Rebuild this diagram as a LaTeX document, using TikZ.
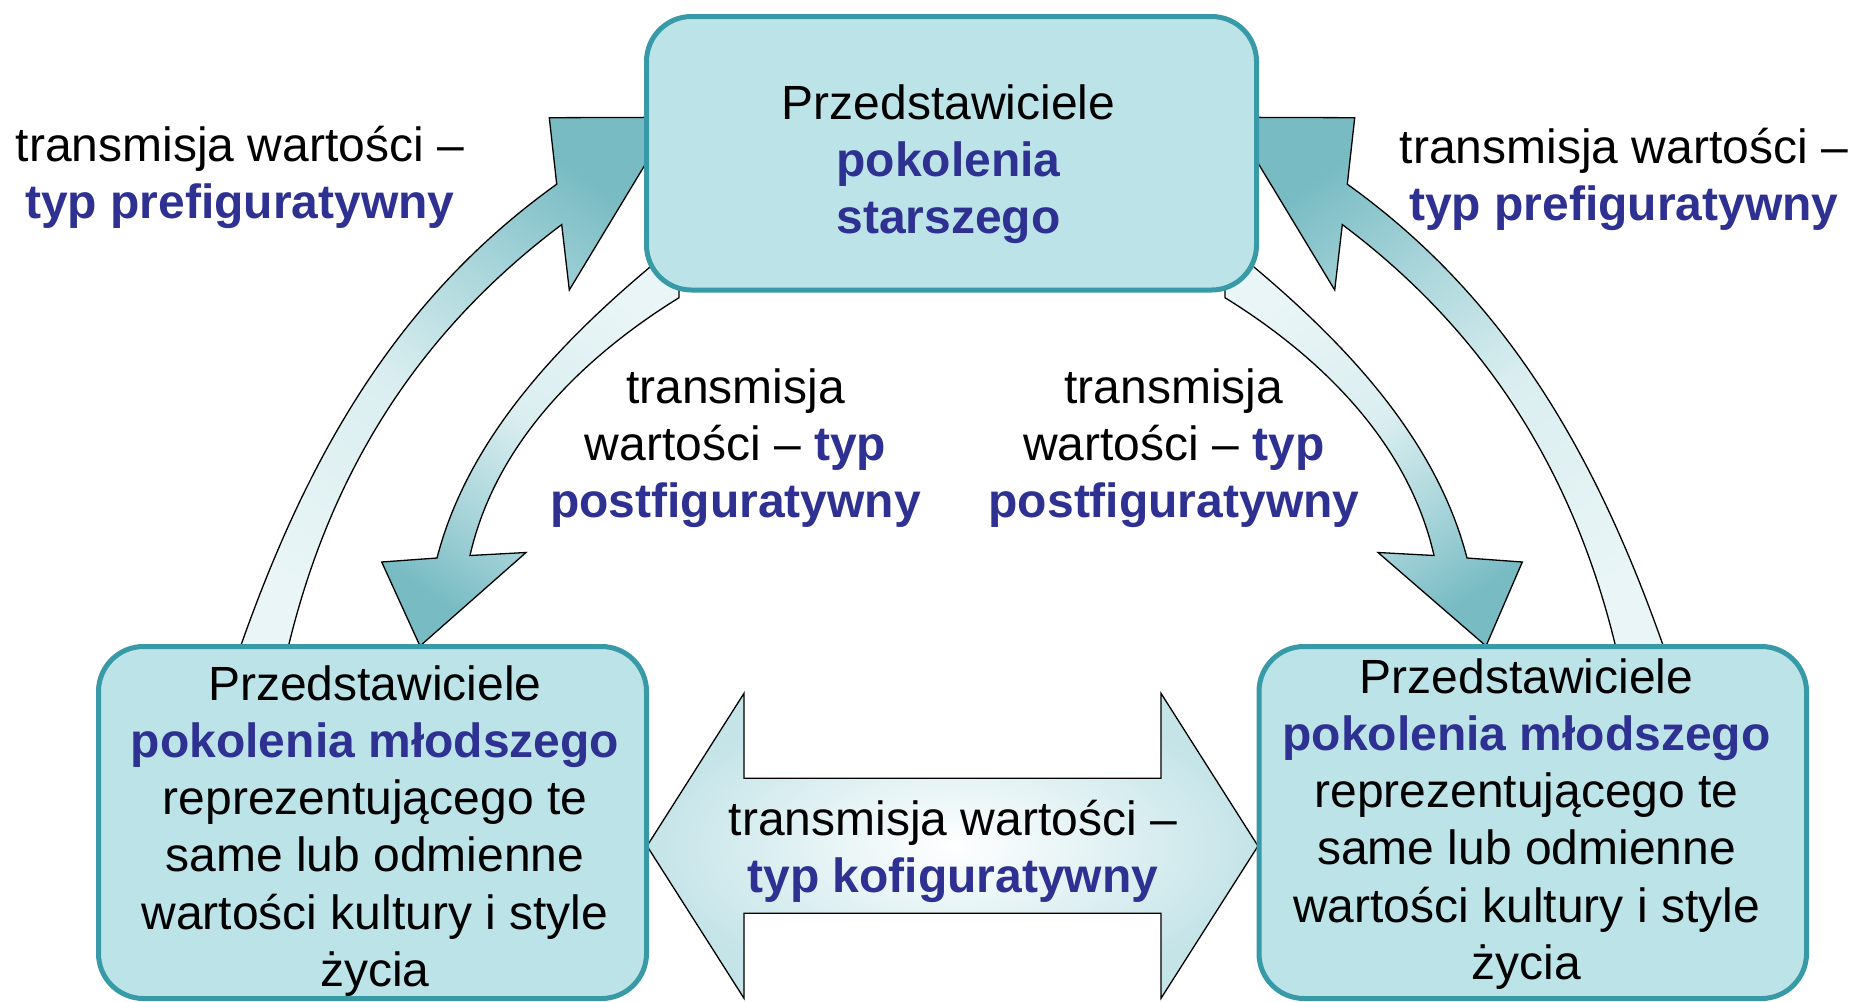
\documentclass[tikz,border=0pt]{standalone}
\usepackage{fontspec}
\setmainfont{Liberation Sans}
\definecolor{tblue}{RGB}{46,49,146}
\definecolor{boxfill}{RGB}{188,228,232}
\definecolor{boxline}{RGB}{56,154,166}
\definecolor{arrlight}{RGB}{233,245,246}
\definecolor{arrmid}{RGB}{218,238,240}
\definecolor{arrmed}{RGB}{168,213,218}
\definecolor{arrdark}{RGB}{120,187,195}
\definecolor{midedge}{RGB}{196,228,232}
\pgfdeclareverticalshading{curvshade}{100bp}{color(0bp)=(arrlight); color(25bp)=(arrlight); color(47bp)=(arrmid); color(62bp)=(arrmed); color(75bp)=(arrdark); color(100bp)=(arrdark)}
\newcommand{\kw}[1]{\textbf{\textcolor{tblue}{#1}}}
\newcommand{\topstrut}{\rule{0pt}{40pt}}
\begin{document}
\begin{tikzpicture}[x=1pt, y=-1pt,
  genbox/.style={draw=boxline, fill=boxfill, line width=5pt, rounded corners=45pt, inner sep=0pt},
  lbl/.style={anchor=north, align=center, inner sep=0pt, font=\fontsize{48}{57.2}\selectfont},
  curv/.style={shading=curvshade, draw=black, line width=1.3pt, line join=miter},
  straightarr/.style={inner color=white, outer color=midedge, draw=black, line width=1.3pt}]
\useasboundingbox (0,0) rectangle (1854,1001);
\fill[white] (0,0) rectangle (1854,1001);

% prefigurative, left (young -> old)
\shadedraw[curv, shading angle=-35] (236,662) -- (240,648) .. controls (306,460) and (395,300) .. (556.7,184.2)
  -- (549.3,117.7) -- (673.7,117.3) -- (569.3,290) -- (561.7,224.6)
  .. controls (417.7,332.6) and (330,473) .. (288,648) -- (285,662) -- cycle;
% postfigurative, left (old -> young)
\shadedraw[curv, shading angle=145.7] (656,262) .. controls (560,342) and (468,438) .. (437,558)
  -- (381.7,562) -- (420,646) -- (526,552.5) -- (470,555.5)
  .. controls (495,445) and (580,359) .. (679,297.7) -- (679,258) -- cycle;
% prefigurative, right (young -> old)
\shadedraw[curv, shading angle=35] (1668,662) -- (1664,648) .. controls (1598,460) and (1509,300) .. (1347.3,184.2)
  -- (1354.7,117.7) -- (1230.3,117.3) -- (1334.7,290) -- (1342.3,224.6)
  .. controls (1486.3,332.6) and (1574,473) .. (1616,648) -- (1619,662) -- cycle;
% postfigurative, right (old -> young)
\shadedraw[curv, shading angle=-145.7] (1248,262) .. controls (1344,342) and (1436,438) .. (1467,558)
  -- (1522.3,562) -- (1486,646) -- (1378,552.5) -- (1434,555.5)
  .. controls (1409,445) and (1324,359) .. (1225,297.7) -- (1225,258) -- cycle;
% cofigurative double arrow
\shadedraw[straightarr] (647,846) -- (744,693.3) -- (744,778.3) -- (1161,778.3) -- (1161,693.3)
  -- (1258,846) -- (1161,998.3) -- (1161,913.3) -- (744,913.3) -- (744,998.3) -- cycle;

% boxes
\node[genbox, minimum width=610pt, minimum height=273.5pt] (old) at (951.5,153.25) {};
\node[genbox, minimum width=548pt, minimum height=352pt] (youngL) at (372.5,822.5) {};
\node[genbox, minimum width=547.5pt, minimum height=352pt] (youngR) at (1532.75,822.5) {};

% box texts
\node[lbl] (oldtxt) at (948.5,79.3) {\topstrut Przedstawiciele\\ \kw{pokolenia}\\ \kw{starszego}};
\node[lbl] (youngLtxt) at (375,660) {\topstrut Przedstawiciele\\ \kw{pokolenia młodszego}\\ reprezentującego te\\ same lub odmienne\\ wartości kultury i style\\ życia};
\node[lbl] (youngRtxt) at (1526.5,653) {\topstrut Przedstawiciele\\ \kw{pokolenia młodszego}\\ reprezentującego te\\ same lub odmienne\\ wartości kultury i style\\ życia};

% arrow labels
\node[lbl] (preL) at (240,121) {\topstrut transmisja wartości –\\ \kw{typ prefiguratywny}};
\node[lbl] (preR) at (1624,123) {\topstrut transmisja wartości –\\ \kw{typ prefiguratywny}};
\node[lbl] (postL) at (735.5,363) {\topstrut transmisja\\ wartości – \kw{typ}\\ \kw{postfiguratywny}};
\node[lbl] (postR) at (1174,363) {\topstrut transmisja\\ wartości – \kw{typ}\\ \kw{postfiguratywny}};
\node[lbl] (ko) at (953,795) {\topstrut transmisja wartości –\\ \kw{typ kofiguratywny}};
\end{tikzpicture}
\end{document}
